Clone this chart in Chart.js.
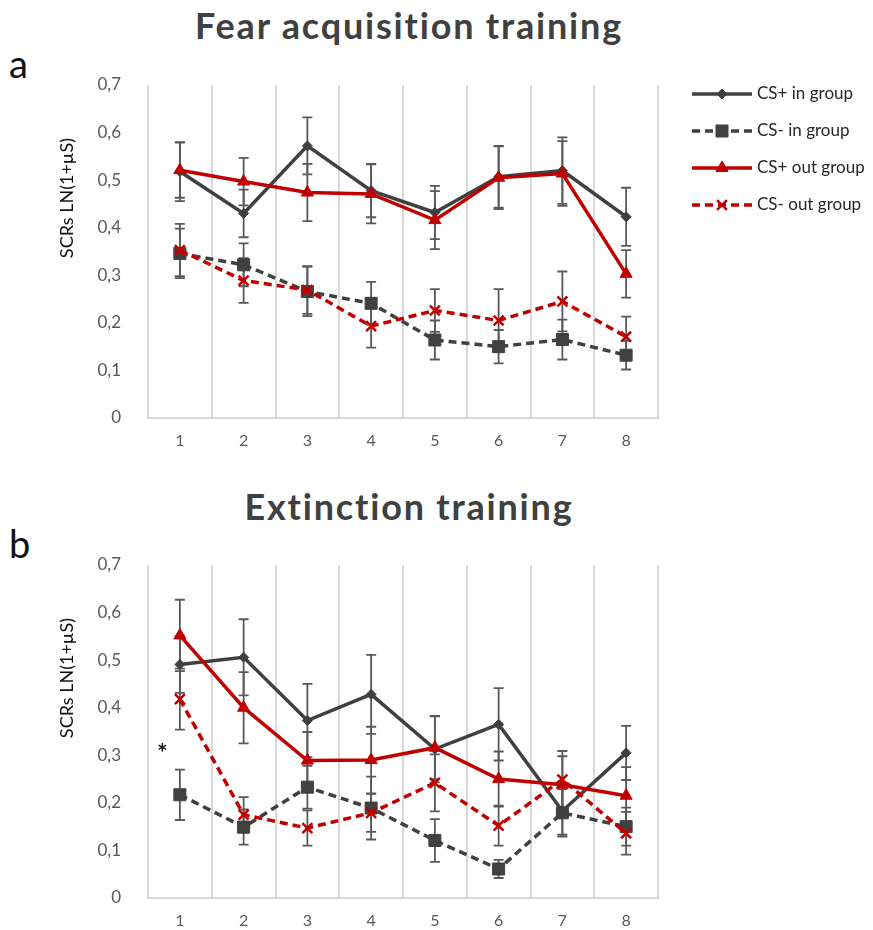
<!DOCTYPE html>
<html>
<head>
<meta charset="utf-8">
<script src="https://cdn.jsdelivr.net/npm/chart.js@4.4.1/dist/chart.umd.min.js"></script>
<style>
body{margin:0;background:#fff;width:873px;height:930px;position:relative;overflow:hidden;font-family:Lato,sans-serif}
.title{position:absolute;left:0;width:818px;text-align:center;font-weight:bold;font-size:36px;letter-spacing:1.8px;color:#404040}
.panel{position:absolute;left:9px;font-size:38px;color:#111}
.star{position:absolute;left:157px;top:737px;font-size:25px;font-weight:bold;color:#111}
canvas{position:absolute;left:0}
</style>
</head>
<body>
<div class="title" style="top:3px">Fear acquisition training</div>
<div class="panel" style="top:40px">a</div>
<canvas id="acq" width="873" height="465" style="top:0"></canvas>
<div class="title" style="top:484px">Extinction training</div>
<div class="panel" style="top:520px">b</div>
<canvas id="ext" width="873" height="465" style="top:465px"></canvas>
<div class="star">*</div>

<script>
const trials = ['1','2','3','4','5','6','7','8'];
const yTickLabels = ['0','0,1','0,2','0,3','0,4','0,5','0,6','0,7'];
const seriesNames = ['CS+ in group','CS- in group','CS+ out group','CS- out group'];
const yTitle = 'SCRs LN(1+µS)';

// fear acquisition training
const acqCsPlusIn     = [0.518, 0.430, 0.572, 0.478, 0.432, 0.507, 0.520, 0.423];
const acqCsPlusInErr  = [0.062, 0.050, 0.060, 0.056, 0.056, 0.065, 0.070, 0.061];
const acqCsMinusIn    = [0.346, 0.322, 0.266, 0.241, 0.164, 0.150, 0.165, 0.132];
const acqCsMinusInErr = [0.052, 0.045, 0.052, 0.045, 0.041, 0.035, 0.042, 0.030];
const acqCsPlusOut    = [0.521, 0.497, 0.474, 0.471, 0.416, 0.505, 0.514, 0.303];
const acqCsPlusOutErr = [0.058, 0.050, 0.060, 0.062, 0.061, 0.066, 0.068, 0.050];
const acqCsMinusOut   = [0.353, 0.289, 0.269, 0.193, 0.226, 0.205, 0.245, 0.171];
const acqCsMinusOutErr= [0.055, 0.047, 0.050, 0.045, 0.045, 0.066, 0.063, 0.042];

// extinction training
const extCsPlusIn     = [0.491, 0.506, 0.373, 0.428, 0.313, 0.365, 0.183, 0.305];
const extCsPlusInErr  = [0.060, 0.080, 0.077, 0.083, 0.070, 0.076, 0.050, 0.057];
const extCsMinusIn    = [0.217, 0.149, 0.233, 0.189, 0.121, 0.061, 0.179, 0.150];
const extCsMinusInErr = [0.053, 0.037, 0.045, 0.066, 0.045, 0.019, 0.050, 0.040];
const extCsPlusOut    = [0.552, 0.400, 0.289, 0.290, 0.316, 0.250, 0.238, 0.215];
const extCsPlusOutErr = [0.075, 0.075, 0.060, 0.070, 0.066, 0.058, 0.060, 0.060];
const extCsMinusOut   = [0.418, 0.175, 0.147, 0.179, 0.242, 0.152, 0.249, 0.136];
const extCsMinusOutErr= [0.064, 0.037, 0.037, 0.040, 0.060, 0.042, 0.060, 0.045];

const DARK = '#404040', RED = '#c00000';

// error bars under the lines
const errorBars = {
  id: 'errorBars',
  beforeDatasetsDraw(chart){
    const ctx = chart.ctx, x = chart.scales.x, y = chart.scales.y;
    ctx.save();
    ctx.strokeStyle = '#595959';
    ctx.lineWidth = 1.8;
    chart.data.datasets.forEach(ds => {
      ds.data.forEach((v, i) => {
        const px = x.getPixelForValue(i);
        const t = y.getPixelForValue(v + ds.errors[i]);
        const b = y.getPixelForValue(v - ds.errors[i]);
        ctx.beginPath();
        ctx.moveTo(px, t); ctx.lineTo(px, b);
        ctx.moveTo(px-5, t); ctx.lineTo(px+5, t);
        ctx.moveTo(px-5, b); ctx.lineTo(px+5, b);
        ctx.stroke();
      });
    });
    ctx.restore();
  }
};

// y title sits above the middle of the axis, like the original
const sideTitle = {
  id: 'sideTitle',
  afterDraw(chart){
    const ctx = chart.ctx;
    ctx.save();
    ctx.translate(67, chart.chartArea.top + 113);
    ctx.rotate(-Math.PI/2);
    ctx.fillStyle = '#111';
    ctx.font = '18px Lato';
    ctx.textAlign = 'center';
    ctx.textBaseline = 'middle';
    ctx.fillText(yTitle, 0, 0);
    ctx.restore();
  }
};

// legend at the right of the top panel
const sideLegend = {
  id: 'sideLegend',
  afterDraw(chart){
    if(!chart.options.plugins.sideLegend.show) return;
    const ctx = chart.ctx;
    chart.data.datasets.forEach((ds, i) => {
      const yy = 94 + i*37;
      ctx.save();
      ctx.strokeStyle = ds.borderColor;
      ctx.lineWidth = 3.5;
      ctx.setLineDash(ds.borderDash || []);
      ctx.beginPath(); ctx.moveTo(692, yy); ctx.lineTo(752, yy); ctx.stroke();
      ctx.setLineDash([]);
      if(Chart.helpers && Chart.helpers.drawPoint){
        ctx.fillStyle = ds.pointBackgroundColor;
        ctx.strokeStyle = ds.pointBorderColor;
        ctx.lineWidth = ds.pointBorderWidth;
        Chart.helpers.drawPoint(ctx, {pointStyle: ds.pointStyle, radius: ds.pointRadius, borderWidth: ds.pointBorderWidth, rotation: 0}, 722, yy);
      }
      ctx.fillStyle = '#262626';
      ctx.font = '17px Lato';
      ctx.textBaseline = 'middle';
      ctx.fillText(ds.label, 757, yy);
      ctx.restore();
    });
  }
};

function makeSets(a, ae, b, be, c, ce, d, de){
  return [
    {label: seriesNames[0], data: a, errors: ae, borderColor: DARK, borderWidth: 3.5, pointStyle: 'rectRot', pointRadius: 5,
     pointBackgroundColor: DARK, pointBorderColor: DARK, pointBorderWidth: 1, order: 2},
    {label: seriesNames[1], data: b, errors: be, borderColor: DARK, borderWidth: 3.5, borderDash: [8,5], pointStyle: 'rect', pointRadius: 8.5,
     pointBackgroundColor: DARK, pointBorderColor: DARK, pointBorderWidth: 1, order: 3},
    {label: seriesNames[2], data: c, errors: ce, borderColor: RED, borderWidth: 3.5, pointStyle: 'triangle', pointRadius: 7,
     pointBackgroundColor: RED, pointBorderColor: RED, pointBorderWidth: 1, order: 0},
    {label: seriesNames[3], data: d, errors: de, borderColor: RED, borderWidth: 3.5, borderDash: [8,5], pointStyle: 'crossRot', pointRadius: 7,
     pointBackgroundColor: RED, pointBorderColor: RED, pointBorderWidth: 2.5, order: 1}
  ];
}

function makeChart(id, sets, padTop, axisH, legend){
  return new Chart(document.getElementById(id), {
    type: 'line',
    data: { labels: trials, datasets: sets },
    options: {
      responsive: false,
      animation: false,
      layout: { padding: { top: padTop, right: 215, bottom: 0, left: 57 } },
      elements: { line: { tension: 0 } },
      plugins: { legend: { display: false }, tooltip: { enabled: false }, sideLegend: { show: legend } },
      scales: {
        x: {
          offset: true,
          grid: { display: true, offset: true, color: '#d9d9d9', lineWidth: 2, drawTicks: false },
          border: { display: true, color: '#d9d9d9', width: 2 },
          ticks: { color: '#595959', font: { family: 'Lato', size: 16 }, padding: 13 },
          afterFit(s){ s.height = axisH; }
        },
        y: {
          min: 0, max: 0.7,
          grid: { display: false },
          border: { display: false },
          ticks: { stepSize: 0.1, color: '#595959', font: { family: 'Lato', size: 17 }, padding: 19,
                   callback: v => yTickLabels[Math.round(v*10)] },
          afterFit(s){ s.width = 91; }
        }
      }
    },
    plugins: [errorBars, sideTitle, sideLegend]
  });
}

makeChart('acq', makeSets(acqCsPlusIn, acqCsPlusInErr, acqCsMinusIn, acqCsMinusInErr,
                          acqCsPlusOut, acqCsPlusOutErr, acqCsMinusOut, acqCsMinusOutErr), 85, 47, true);
makeChart('ext', makeSets(extCsPlusIn, extCsPlusInErr, extCsMinusIn, extCsMinusInErr,
                          extCsPlusOut, extCsPlusOutErr, extCsMinusOut, extCsMinusOutErr), 100, 32, false);
</script>
</body>
</html>
